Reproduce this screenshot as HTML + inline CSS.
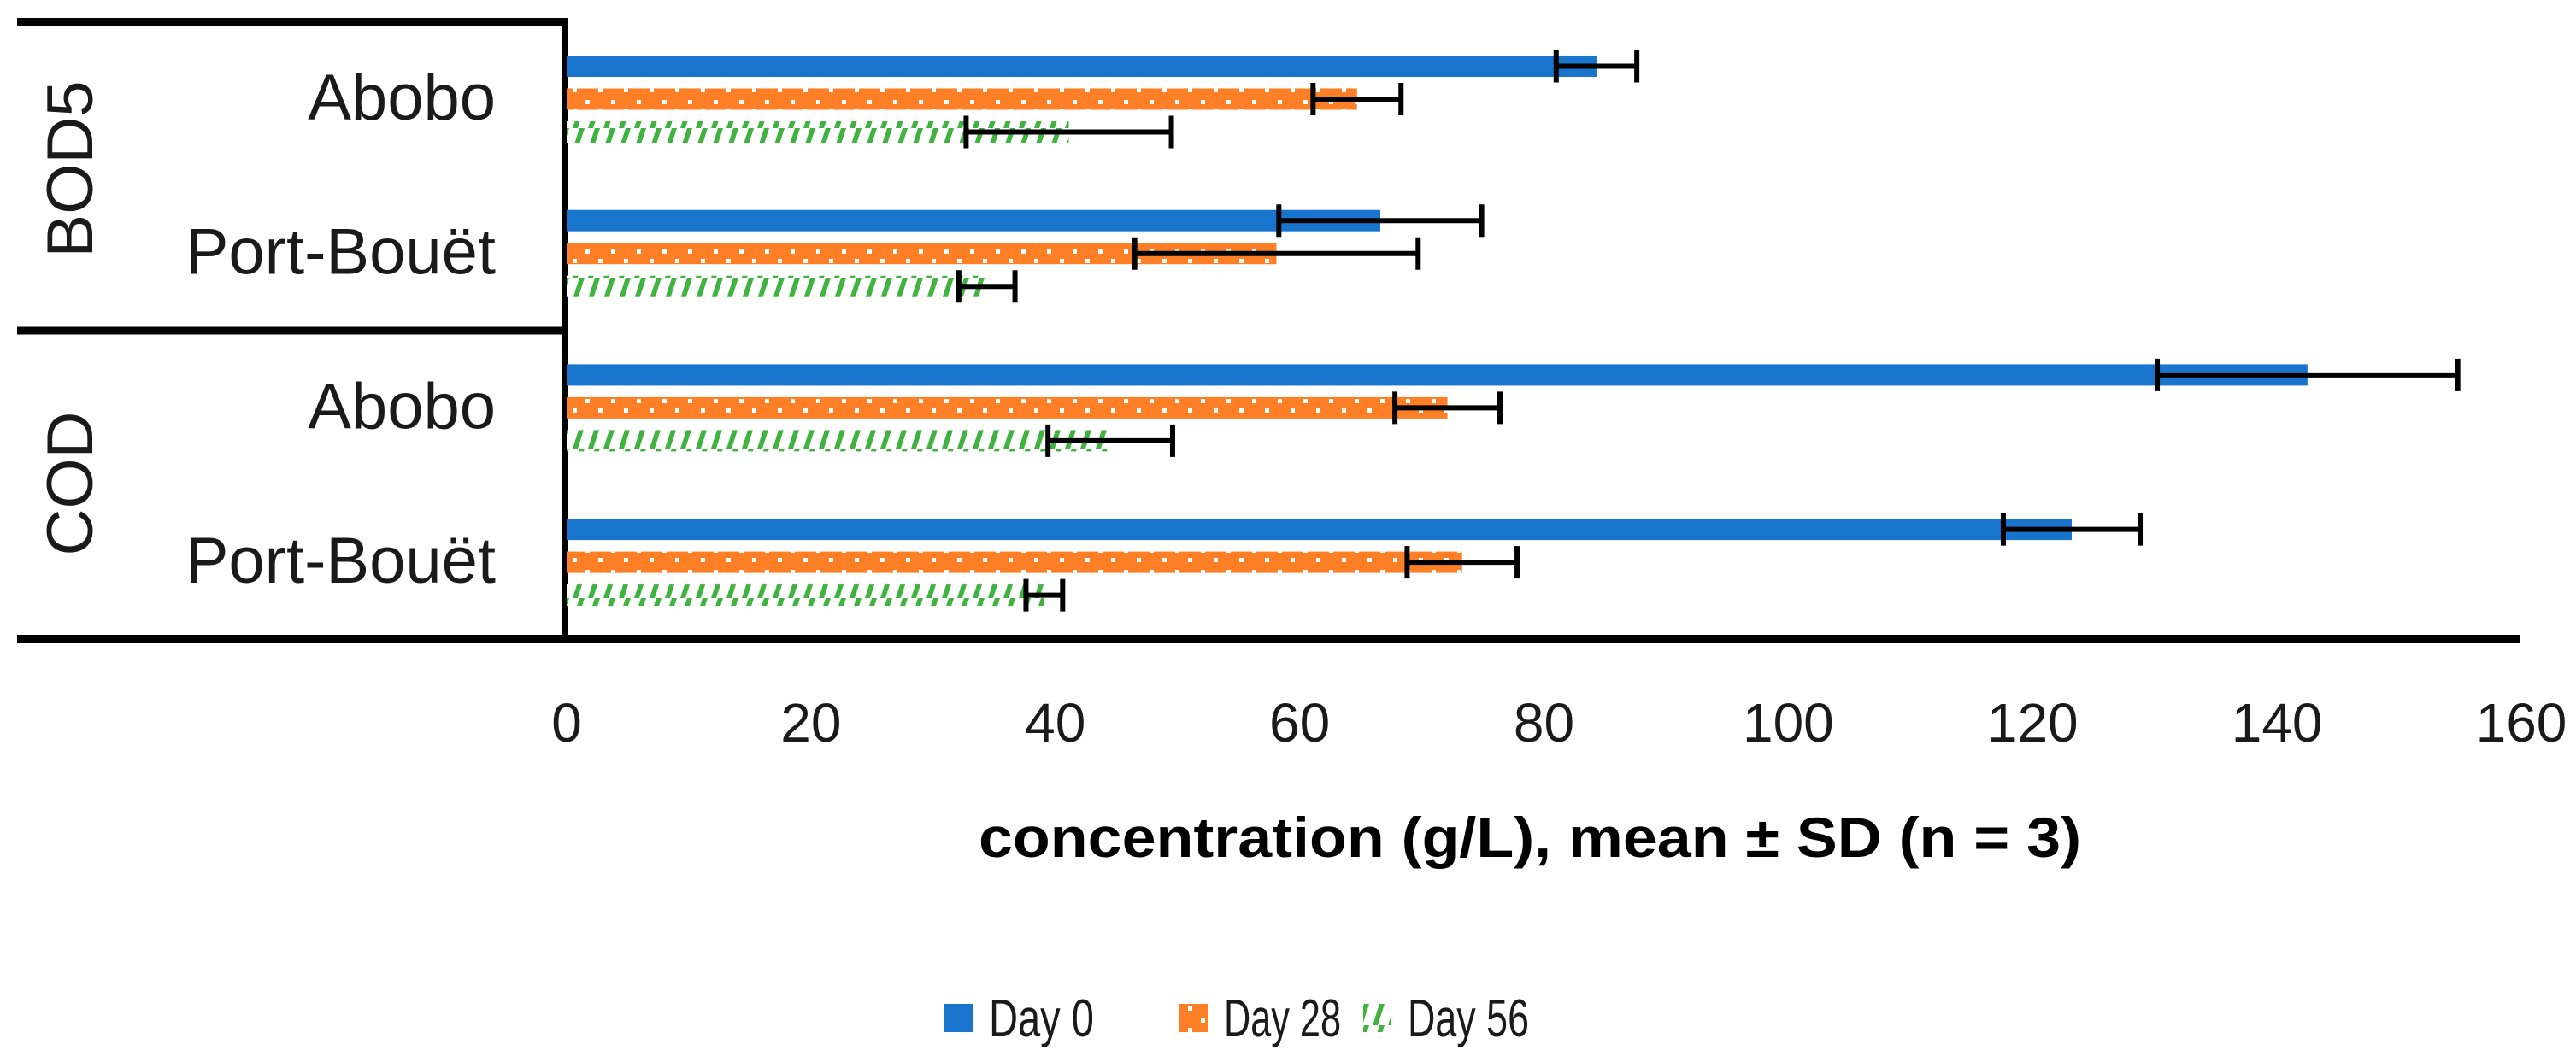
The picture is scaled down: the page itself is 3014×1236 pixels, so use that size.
<!DOCTYPE html>
<html><head><meta charset="utf-8"><style>
html,body{margin:0;padding:0;background:#fff;}
svg{display:block;font-family:"Liberation Sans",sans-serif;}
</style></head><body>
<svg id="chart" width="3014" height="1236" viewBox="0 0 3014 1236">
<defs>
<pattern id="dots" width="30" height="25" patternUnits="userSpaceOnUse">
<rect width="30" height="25" fill="#FF7F27"/>
<rect x="10" y="3" width="5" height="5" fill="#fff"/>
<rect x="25" y="17" width="5" height="5" fill="#fff"/>
</pattern>
<pattern id="diag" width="18" height="25" patternUnits="userSpaceOnUse">
<rect width="18" height="25" fill="#fff"/>
<polygon points="4,25 10,25 18,0 12,0" fill="#3FB23F"/>
</pattern>
</defs>
<g id="frame"></g>
<g id="bars"></g>
<g id="ticks"></g>
<text x="1790" y="1003" text-anchor="middle" font-size="66" font-weight="bold" fill="#000" textLength="1290" lengthAdjust="spacingAndGlyphs">concentration (g/L), mean ± SD (n = 3)</text>
<g>
<g><rect x="1105" y="1175" width="33" height="33" fill="#1874CD"/><text x="1157" y="1213" font-size="62" fill="#1a1a1a" textLength="123" lengthAdjust="spacingAndGlyphs">Day 0</text></g>
<g><rect x="1380" y="1175" width="33" height="33" fill="url(#dots)"/><text x="1432" y="1213" font-size="62" fill="#1a1a1a" textLength="137" lengthAdjust="spacingAndGlyphs">Day 28</text></g>
<g><rect x="1595" y="1175" width="33" height="33" fill="url(#diag)"/><text x="1647" y="1213" font-size="62" fill="#1a1a1a" textLength="142" lengthAdjust="spacingAndGlyphs">Day 56</text></g>
</g>
</svg>
<script>
const categories = ["BOD5 Abobo","BOD5 Port-Bouët","COD Abobo","COD Port-Bouët"];
const day0 = [84.3, 66.6, 142.5, 123.2];
const day0Err = [3.3, 8.3, 12.3, 5.6];
const day28 = [64.7, 58.1, 72.1, 73.3];
const day28Err = [3.6, 11.6, 4.3, 4.5];
const day56 = [41.1, 34.4, 44.5, 39.1];
const day56Err = [8.4, 2.3, 5.1, 1.5];
const tickLabels = [0,20,40,60,80,100,120,140,160];

const NS="http://www.w3.org/2000/svg";
const x0=663, x1=2950, vmax=160;
const xs=v=>x0+(v/vmax)*(x1-x0);
function mk(tag,attrs,parent){const e=document.createElementNS(NS,tag);for(const k in attrs)e.setAttribute(k,attrs[k]);parent.appendChild(e);return e;}
const frame=document.getElementById('frame'), bars=document.getElementById('bars'), ticks=document.getElementById('ticks');

let l;
l=mk('line',{x1:20,y1:26,x2:664,y2:26,stroke:'#000','stroke-width':10},frame);


l=mk('line',{x1:20,y1:387,x2:661,y2:387,stroke:'#000','stroke-width':9},frame);


l=mk('line',{x1:661,y1:26,x2:661,y2:748,stroke:'#000','stroke-width':6},frame);


l=mk('line',{x1:20,y1:748,x2:2949,y2:748,stroke:'#000','stroke-width':10},frame);



const groupLabels=["BOD5","COD"], groupY=[198,566];
groupLabels.forEach((g,i)=>{
  const t=mk('text',{x:0,y:0,'font-size':76,fill:'#1a1a1a','text-anchor':'middle',transform:`translate(108,${groupY[i]}) rotate(-90)`},frame);
  t.textContent=g;
  
  
});

const series=[{v:day0,e:day0Err,fill:'#1874CD',n:'day0'},{v:day28,e:day28Err,fill:'url(#dots)',n:'day28'},{v:day56,e:day56Err,fill:'url(#diag)',n:'day56'}];
categories.forEach((c,i)=>{
  const gy=65+i*180.7;
  const t=mk('text',{x:580,y:gy+75,'font-size':76,fill:'#1a1a1a','text-anchor':'end'},frame);
  t.textContent=c.split(' ')[1];
  
  
  series.forEach((s,j)=>{
    const y=gy+j*38.5, h=25;
    const r=mk('rect',{x:xs(0),y:y,width:xs(s.v[i])-xs(0),height:h,fill:s.fill},bars);
    
    
    const lo=xs(s.v[i]-s.e[i]), hi=xs(s.v[i]+s.e[i]), cy=y+h/2;
    const eb=mk('path',{d:`M${lo},${cy}H${hi}M${lo},${cy-19}V${cy+19}M${hi},${cy-19}V${cy+19}`,stroke:'#000','stroke-width':6,fill:'none'},bars);
    
    
  });
});
tickLabels.forEach(v=>{
  const t=mk('text',{x:xs(v),y:868,'font-size':64,fill:'#1a1a1a','text-anchor':'middle'},ticks);
  t.textContent=v;
  
  
});
</script>
</body></html>
